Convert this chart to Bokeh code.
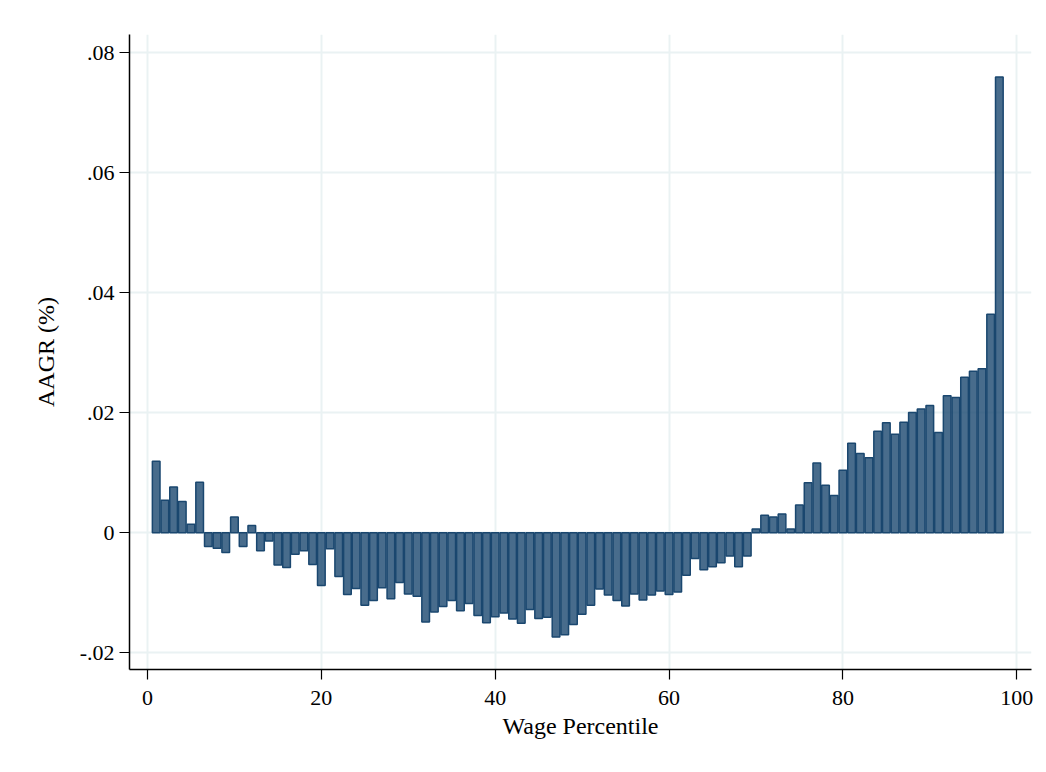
from bokeh.plotting import figure
from bokeh.models import ColumnDataSource, FixedTicker, Range1d
from bokeh.embed import file_html
from bokeh.resources import INLINE

percentile = list(range(1, 99))
aagr = [
    0.0119, 0.0054, 0.0076, 0.0052, 0.0014, 0.0084, -0.0023, -0.0026, -0.0033, 0.0026,
    -0.0023, 0.0012, -0.0030, -0.0014, -0.0054, -0.0058, -0.0036, -0.0030, -0.0053, -0.0088,
    -0.0027, -0.0073, -0.0103, -0.0093, -0.0121, -0.0113, -0.0092, -0.0110, -0.0083, -0.0102,
    -0.0106, -0.0149, -0.0132, -0.0123, -0.0113, -0.0130, -0.0118, -0.0138, -0.0150, -0.0140,
    -0.0134, -0.0144, -0.0151, -0.0128, -0.0143, -0.0141, -0.0174, -0.0170, -0.0153, -0.0136,
    -0.0121, -0.0094, -0.0104, -0.0113, -0.0122, -0.0102, -0.0112, -0.0104, -0.0097, -0.0103,
    -0.0099, -0.0071, -0.0043, -0.0062, -0.0057, -0.0050, -0.0039, -0.0057, -0.0039, 0.0006,
    0.0029, 0.0026, 0.0031, 0.0006, 0.0046, 0.0083, 0.0116, 0.0079, 0.0062, 0.0104,
    0.0149, 0.0132, 0.0125, 0.0169, 0.0183, 0.0164, 0.0184, 0.0200, 0.0206, 0.0212,
    0.0167, 0.0228, 0.0225, 0.0259, 0.0269, 0.0273, 0.0364, 0.0759,
]
x_ticks = [0, 20, 40, 60, 80, 100]
y_ticks = [-0.02, 0.0, 0.02, 0.04, 0.06, 0.08]
y_tick_labels = ["-.02", "0", ".02", ".04", ".06", ".08"]

src = ColumnDataSource(dict(x=percentile, top=aagr))

FONT = "Liberation Serif"
GRID = "#eaf2f3"

p = figure(width=1038, height=764, output_backend="svg", toolbar_location=None,
           x_range=Range1d(-2.07, 101.7), y_range=Range1d(-0.0228, 0.083),
           min_border_left=129, min_border_right=7, min_border_top=34, min_border_bottom=95)
p.vbar(x="x", top="top", bottom=0, width=0.88, source=src,
       fill_color="#1a476f", fill_alpha=0.8, line_color="#1a476f", line_width=1.5)

p.outline_line_color = None
p.background_fill_color = "white"
p.border_fill_color = "white"

p.xaxis.ticker = FixedTicker(ticks=x_ticks)
p.yaxis.ticker = FixedTicker(ticks=y_ticks)
p.yaxis.major_label_overrides = {t: l for t, l in zip(y_ticks, y_tick_labels)}
p.xgrid.ticker = FixedTicker(ticks=x_ticks)
p.ygrid.ticker = FixedTicker(ticks=y_ticks)
for g in (p.xgrid, p.ygrid):
    g.grid_line_color = GRID
    g.grid_line_width = 2

p.xaxis.axis_label = "Wage Percentile"
p.yaxis.axis_label = "AAGR (%)"
for ax in (p.xaxis, p.yaxis):
    ax.axis_line_color = "black"
    ax.axis_line_width = 1.5
    ax.major_tick_line_color = "black"
    ax.major_tick_line_width = 1.2
    ax.major_tick_out = 10
    ax.major_tick_in = 0
    ax.minor_tick_line_color = None
    ax.major_label_text_font = FONT
    ax.major_label_text_font_size = "22px"
    ax.major_label_text_color = "black"
    ax.axis_label_text_font = FONT
    ax.axis_label_text_font_size = "24px"
    ax.axis_label_text_font_style = "normal"
    ax.axis_label_text_color = "black"
p.xaxis.major_label_standoff = 11
p.xaxis.axis_label_standoff = 5
p.yaxis.major_label_standoff = 5
p.yaxis.axis_label_standoff = 18
p.yaxis.major_label_orientation = "horizontal"

open("out.html", "w").write(file_html(p, INLINE))
